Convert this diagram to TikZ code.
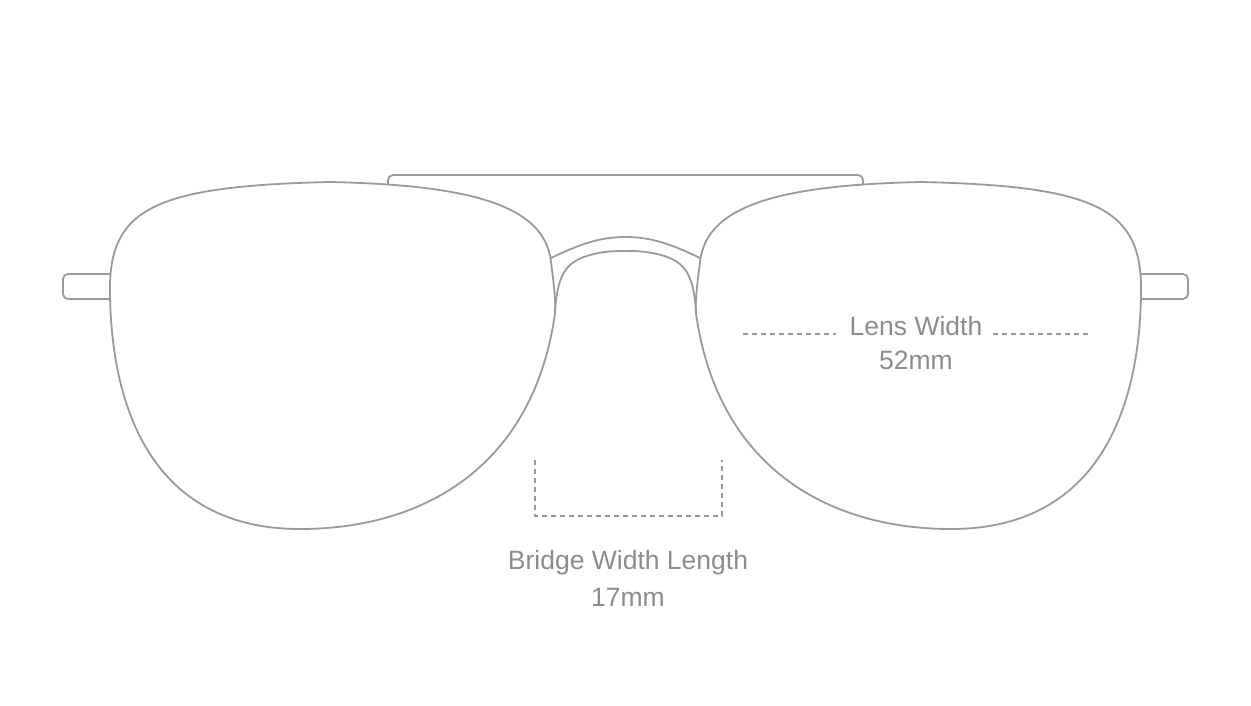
\documentclass[tikz,border=0pt]{standalone}
\usepackage{fontspec}
\setmainfont{Liberation Sans}
\begin{document}
\begin{tikzpicture}[x=1pt,y=-1pt]
\definecolor{fr}{HTML}{9A9A9A}
\tikzset{frame/.style={draw=fr, line width=1.8pt, line join=round},
  dim/.style={draw=gray!80, line width=1.2pt, dash pattern=on 5pt off 4pt},
  lbl/.style={text=gray!90, font=\fontsize{26.5}{28}\selectfont, inner sep=0pt}}
\path[use as bounding box] (0,0) rectangle (1251,705);
% top bar
\draw[frame, rounded corners=5pt] (388,186) -- (388,175) -- (863,175) -- (863,186);
% temples
\draw[frame, rounded corners=5pt] (110,274) -- (63,274) -- (63,299) -- (110,299);
\draw[frame, rounded corners=5pt] (1140,274) -- (1188,274) -- (1188,299) -- (1140,299);
% lenses
\foreach \s in {1,-1}{
\begin{scope}[xshift=625.5pt, xscale=\s, xshift=-625.5pt]
\draw[frame, fill=white] (110,295) .. controls (108,210) and (150,186) .. (330,182)
  .. controls (470,185) and (545,205) .. (551,262)
  .. controls (556,300) and (556,310) .. (554,320)
  .. controls (530,470) and (420,529) .. (300,529)
  .. controls (160,529) and (112,420) .. (110,295);
\draw[frame] (551,258) .. controls (580,244) and (600,237) .. (625.5,237);
\draw[frame] (555,310) .. controls (558,275) and (565,262) .. (590,255) .. controls (605,251) and (615,251) .. (625.5,251);
\end{scope}}
% dimensions
\draw[dim] (743,334) -- (836,334);
\draw[dim] (993,334) -- (1088,334);
\draw[dim] (535,460) -- (535,516) -- (722,516) -- (722,460);
\node[lbl] (lw) at (916,326) {Lens Width};
\node[lbl] (lv) at (916,360) {52mm};
\node[lbl] (bw) at (628,563) {Bridge Width Length};
\node[lbl] (bv) at (628,597) {17mm};
\end{tikzpicture}
\end{document}
